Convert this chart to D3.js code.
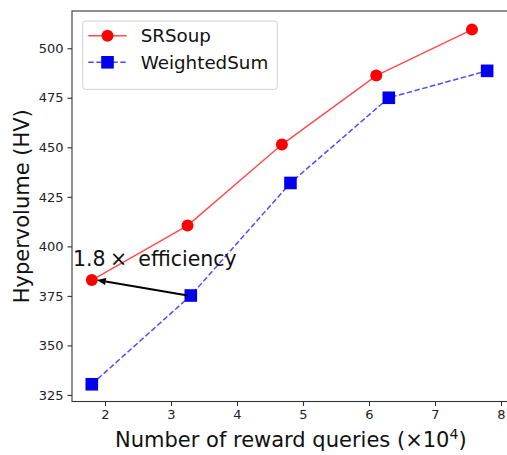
<!DOCTYPE html>
<html>
<head>
<meta charset="utf-8">
<script src="https://cdn.jsdelivr.net/npm/d3@7"></script>
<style>
  html, body { margin: 0; padding: 0; background: #fff; }
  svg { display: block; font-family: "DejaVu Sans", sans-serif; }
</style>
</head>
<body>
<svg id="chart" width="507" height="455"></svg>
<script>
// Hypervolume versus number of reward queries (x 10^4)
const srsoupX = [1.80, 3.25, 4.68, 6.11, 7.56];
const srsoupY = [383.0, 410.5, 451.4, 486.2, 509.4];
const weightedX = [1.80, 3.30, 4.81, 6.30, 7.79];
const weightedY = [330.4, 375.2, 432.0, 475.0, 488.6];
const xTicks = [2, 3, 4, 5, 6, 7, 8];
const yTicks = [325, 350, 375, 400, 425, 450, 475, 500];
const seriesNames = ["SRSoup", "WeightedSum"];

const svg = d3.select("#chart");
const plotLeft = 72, plotRight = 507.6, plotTop = 11, plotBottom = 401.5;

const x = d3.scaleLinear().domain([1.5, 8.1]).range([plotLeft, plotRight]);
const y = d3.scaleLinear().domain([321.7, 518.8]).range([plotBottom, plotTop]);

// axes frame
const spine = "#333";
svg.append("rect").attr("x", plotLeft).attr("y", plotTop)
  .attr("width", plotRight - plotLeft).attr("height", plotBottom - plotTop)
  .attr("fill", "none").attr("stroke", spine).attr("stroke-width", 1.1);

const xAxis = d3.axisBottom(x).tickValues(xTicks).tickFormat(d3.format("d"))
  .tickSizeInner(4.5).tickSizeOuter(0).tickPadding(4);
const yAxis = d3.axisLeft(y).tickValues(yTicks).tickFormat(d3.format("d"))
  .tickSizeInner(4.5).tickSizeOuter(0).tickPadding(4);

const gx = svg.append("g").attr("transform", `translate(0,${plotBottom})`).call(xAxis);
const gy = svg.append("g").attr("transform", `translate(${plotLeft},0)`).call(yAxis);
[gx, gy].forEach(g => {
  g.select(".domain").remove();
  g.selectAll(".tick line").attr("stroke", spine).attr("stroke-width", 1.1);
  g.selectAll(".tick text").attr("fill", "#222").style("font-size", "13px")
    .style("font-family", "DejaVu Sans, sans-serif");
});

// axis titles
const xTitle = svg.append("text").attr("x", (plotLeft + plotRight) / 2 + 1).attr("y", 447)
  .attr("text-anchor", "middle").style("font-size", "21px").attr("fill", "#111");
xTitle.append("tspan").text("Number of reward queries (×10");
xTitle.append("tspan").attr("dy", -8).style("font-size", "14px").text("4");
xTitle.append("tspan").attr("dy", 8).text(")");

svg.append("text")
  .attr("transform", `translate(28.5,${(plotTop + plotBottom) / 2}) rotate(-90)`)
  .attr("text-anchor", "middle").style("font-size", "21px").attr("fill", "#111")
  .text("Hypervolume (HV)");

const line = d3.line().x(d => x(d[0])).y(d => y(d[1]));
const srPts = srsoupX.map((v, i) => [v, srsoupY[i]]);
const wsPts = weightedX.map((v, i) => [v, weightedY[i]]);

// WeightedSum: dashed blue with squares
svg.append("path").datum(wsPts).attr("d", line)
  .attr("fill", "none").attr("stroke", "#0000ff").attr("stroke-opacity", 0.7)
  .attr("stroke-width", 1.5).attr("stroke-dasharray", "5.5,2.5");
svg.append("g").selectAll("rect").data(wsPts).join("rect")
  .attr("x", d => x(d[0]) - 6.3).attr("y", d => y(d[1]) - 6.3)
  .attr("width", 12.6).attr("height", 12.6).attr("fill", "#0000ee");

// SRSoup: solid red with circles
svg.append("path").datum(srPts).attr("d", line)
  .attr("fill", "none").attr("stroke", "#ff0000").attr("stroke-opacity", 0.7)
  .attr("stroke-width", 1.5);
svg.append("g").selectAll("circle").data(srPts).join("circle")
  .attr("cx", d => x(d[0])).attr("cy", d => y(d[1])).attr("r", 6)
  .attr("fill", "#ff0000");

// efficiency annotation arrow from WeightedSum to SRSoup
const from = [x(weightedX[1]) - 3, y(weightedY[1])];
const to = [x(srsoupX[0]) + 5, y(srsoupY[0])];
const ang = Math.atan2(to[1] - from[1], to[0] - from[0]);
const headLen = 9, headW = 3.5;
const base = [to[0] - headLen * Math.cos(ang), to[1] - headLen * Math.sin(ang)];
svg.append("line").attr("x1", from[0]).attr("y1", from[1])
  .attr("x2", base[0]).attr("y2", base[1])
  .attr("stroke", "#000").attr("stroke-width", 2);
svg.append("path")
  .attr("d", `M${to[0]},${to[1]}L${base[0] + headW * Math.sin(ang)},${base[1] - headW * Math.cos(ang)}L${base[0] - headW * Math.sin(ang)},${base[1] + headW * Math.cos(ang)}Z`)
  .attr("fill", "#000");

const note = svg.append("text").attr("y", y(390.3))
  .style("font-size", "20.5px").attr("fill", "#111");
note.append("tspan").attr("x", x(1.5) + 1).text("1.8");
note.append("tspan").attr("x", x(1.5) + 38).text("×");
note.append("tspan").attr("x", x(1.5) + 66.3).text("efficiency");

// legend
const lg = svg.append("g");
lg.append("rect").attr("x", 82.7).attr("y", 21).attr("width", 194.6).attr("height", 68.3)
  .attr("rx", 3).attr("fill", "#fff").attr("fill-opacity", 0.8)
  .attr("stroke", "#d0d0d0").attr("stroke-width", 1);
const rowY = [35.7, 62.3];
// row 1
lg.append("line").attr("x1", 88.3).attr("x2", 126.7).attr("y1", rowY[0]).attr("y2", rowY[0])
  .attr("stroke", "#ff0000").attr("stroke-opacity", 0.7).attr("stroke-width", 1.5);
lg.append("circle").attr("cx", 107.5).attr("cy", rowY[0]).attr("r", 6).attr("fill", "#ff0000");
// row 2
lg.append("line").attr("x1", 88.3).attr("x2", 126.7).attr("y1", rowY[1]).attr("y2", rowY[1])
  .attr("stroke", "#0000ff").attr("stroke-opacity", 0.7).attr("stroke-width", 1.5)
  .attr("stroke-dasharray", "5.5,2.5");
lg.append("rect").attr("x", 107.5 - 6.3).attr("y", rowY[1] - 6.3)
  .attr("width", 12.6).attr("height", 12.6).attr("fill", "#0000ee");
lg.selectAll("text.lbl").data(seriesNames).join("text").attr("class", "lbl")
  .attr("x", 140.7).attr("y", (d, i) => rowY[i] + 6.5)
  .style("font-size", "18.3px").attr("fill", "#111").text(d => d);
</script>
</body>
</html>
